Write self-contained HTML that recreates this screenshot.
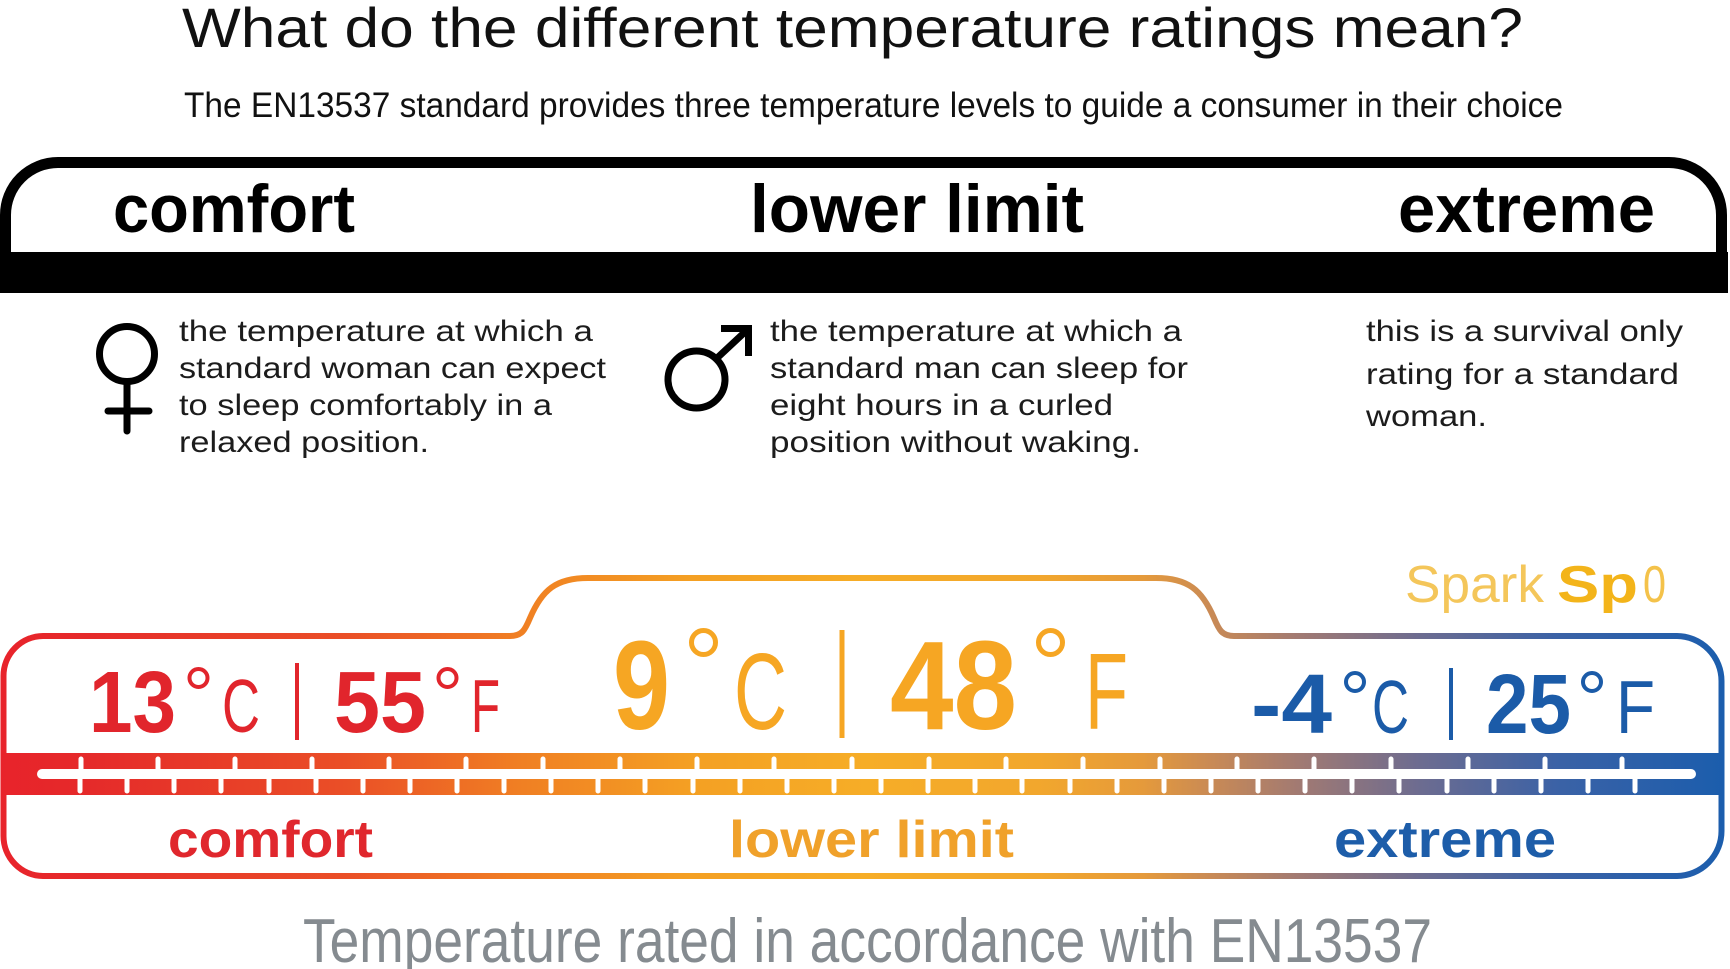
<!DOCTYPE html>
<html>
<head>
<meta charset="utf-8">
<style>
  html,body{margin:0;padding:0;background:#fff;}
  body{width:1730px;height:969px;overflow:hidden;}
  svg{display:block;}
  text{font-family:"Liberation Sans", "DejaVu Sans", sans-serif;}
</style>
</head>
<body>
<svg width="1730" height="969" viewBox="0 0 1730 969" xmlns="http://www.w3.org/2000/svg">
  <defs>
    <linearGradient id="g" gradientUnits="userSpaceOnUse" x1="0" y1="0" x2="1730" y2="0">
      <stop offset="0" stop-color="#e8232b"/>
      <stop offset="0.05" stop-color="#e52a2a"/>
      <stop offset="0.20" stop-color="#ea4f27"/>
      <stop offset="0.30" stop-color="#f07f23"/>
      <stop offset="0.40" stop-color="#f4a023"/>
      <stop offset="0.50" stop-color="#f6ad27"/>
      <stop offset="0.60" stop-color="#f2a72d"/>
      <stop offset="0.66" stop-color="#e59a3b"/>
      <stop offset="0.70" stop-color="#c98a55"/>
      <stop offset="0.75" stop-color="#a27a72"/>
      <stop offset="0.82" stop-color="#6d6c90"/>
      <stop offset="0.90" stop-color="#3b62a6"/>
      <stop offset="1" stop-color="#1a5dad"/>
    </linearGradient>
  </defs>

  <rect x="0" y="0" width="1730" height="969" fill="#ffffff"/>

  <!-- Title -->
  <text x="182" y="47" font-size="56" fill="#111" textLength="1341" lengthAdjust="spacingAndGlyphs">What do the different temperature ratings mean?</text>
  <text x="184" y="117" font-size="35" fill="#111" textLength="1379" lengthAdjust="spacingAndGlyphs">The EN13537 standard provides three temperature levels to guide a consumer in their choice</text>

  <!-- Top black frame -->
  <path d="M5.5,256 V215 A52.5 52.5 0 0 1 58,162.5 H1669 A52.5 52.5 0 0 1 1721.5,215 V256" fill="none" stroke="#000" stroke-width="11"/>
  <rect x="0" y="252" width="1728" height="41" fill="#000"/>

  <text x="113" y="232" font-size="68" font-weight="bold" fill="#000" textLength="242" lengthAdjust="spacingAndGlyphs">comfort</text>
  <text x="750" y="232" font-size="68" font-weight="bold" fill="#000" textLength="334" lengthAdjust="spacingAndGlyphs">lower limit</text>
  <text x="1398" y="232" font-size="68" font-weight="bold" fill="#000" textLength="257" lengthAdjust="spacingAndGlyphs">extreme</text>

  <!-- Female symbol -->
  <g fill="none" stroke="#000" stroke-width="7" stroke-linecap="round">
    <circle cx="127" cy="354" r="27.5"/>
    <line x1="127" y1="382" x2="127" y2="431"/>
    <line x1="108" y1="411" x2="149" y2="411"/>
  </g>
  <!-- Male symbol -->
  <g fill="none" stroke="#000" stroke-width="7">
    <circle cx="696.5" cy="379.5" r="28.5"/>
    <line x1="716" y1="359" x2="746" y2="331"/>
    <polyline points="721,328.5 748.5,328.5 748.5,356" stroke-linejoin="miter" stroke-linecap="butt"/>
  </g>

  <!-- Descriptions -->
  <g font-size="30" fill="#1c1c1c">
    <text x="179" y="341" textLength="414" lengthAdjust="spacingAndGlyphs">the temperature at which a</text>
    <text x="179" y="378" textLength="427" lengthAdjust="spacingAndGlyphs">standard woman can expect</text>
    <text x="179" y="415" textLength="373" lengthAdjust="spacingAndGlyphs">to sleep comfortably in a</text>
    <text x="179" y="452" textLength="250" lengthAdjust="spacingAndGlyphs">relaxed position.</text>

    <text x="770" y="341" textLength="412" lengthAdjust="spacingAndGlyphs">the temperature at which a</text>
    <text x="770" y="378" textLength="418" lengthAdjust="spacingAndGlyphs">standard man can sleep for</text>
    <text x="770" y="415" textLength="343" lengthAdjust="spacingAndGlyphs">eight hours in a curled</text>
    <text x="770" y="452" textLength="371" lengthAdjust="spacingAndGlyphs">position without waking.</text>

    <text x="1366" y="341" textLength="317" lengthAdjust="spacingAndGlyphs">this is a survival only</text>
    <text x="1366" y="384" textLength="313" lengthAdjust="spacingAndGlyphs">rating for a standard</text>
    <text x="1366" y="426" textLength="121" lengthAdjust="spacingAndGlyphs">woman.</text>
  </g>

  <!-- Spark Sp0 -->
  <text x="1405" y="602" font-size="52" fill="#f4c65a" textLength="139" lengthAdjust="spacingAndGlyphs">Spark</text>
  <text x="1557" y="602" font-size="52" font-weight="bold" fill="#f3b41a" textLength="81" lengthAdjust="spacingAndGlyphs">Sp</text>
  <text x="1643" y="602" font-size="52" fill="#f4c24a" textLength="23" lengthAdjust="spacingAndGlyphs">0</text>

  <!-- Bottom outline -->
  <path d="M43,636 H510 C522,636 525,630 530,618 C542,590 556,578 588,578 H1156 C1188,578 1202,590 1214,618 C1219,630 1222,636 1234,636 H1677 A45 45 0 0 1 1721.5,681 V831 A45 45 0 0 1 1677,876 H43 A40 40 0 0 1 3.5,836 V676 A40 40 0 0 1 43,636 Z" fill="none" stroke="url(#g)" stroke-width="6"/>

  <!-- Thermometer band -->
  <rect x="2" y="753" width="1721" height="42" fill="url(#g)"/>
  <rect x="37" y="769" width="1659" height="10" rx="5" fill="#fff"/>
  <path fill="none" stroke="#fff" stroke-width="5" stroke-linecap="round" d="M81 759V772 M158 759V772 M235 759V772 M312 759V772 M389 759V772 M466 759V772 M543 759V772 M620 759V772 M697 759V772 M774 759V772 M852 759V772 M929 759V772 M1006 759V772 M1083 759V772 M1160 759V772 M1237 759V772 M1314 759V772 M1391 759V772 M1468 759V772 M1545 759V772 M1622 759V772"/>
  <path fill="none" stroke="#fff" stroke-width="5" stroke-linecap="round" d="M80 776V791 M127 776V791 M174 776V791 M221 776V791 M269 776V791 M316 776V791 M363 776V791 M410 776V791 M457 776V791 M504 776V791 M551 776V791 M598 776V791 M645 776V791 M693 776V791 M740 776V791 M787 776V791 M834 776V791 M881 776V791 M928 776V791 M975 776V791 M1022 776V791 M1070 776V791 M1117 776V791 M1164 776V791 M1211 776V791 M1258 776V791 M1305 776V791 M1352 776V791 M1399 776V791 M1447 776V791 M1494 776V791 M1541 776V791 M1588 776V791 M1635 776V791"/>

  <!-- Red temps -->
  <g fill="#e1252c">
    <text x="89" y="732" font-size="87" font-weight="bold" textLength="87" lengthAdjust="spacingAndGlyphs">13</text>
    <text x="222" y="732" font-size="75" textLength="38" lengthAdjust="spacingAndGlyphs">C</text>
    <rect x="295" y="663" width="4" height="77"/>
    <text x="334" y="732" font-size="87" font-weight="bold" textLength="92" lengthAdjust="spacingAndGlyphs">55</text>
    <text x="471" y="732" font-size="75" textLength="29" lengthAdjust="spacingAndGlyphs">F</text>
  </g>
  <g fill="none" stroke="#e1252c" stroke-width="4">
    <circle cx="198.5" cy="678" r="9"/>
    <circle cx="447.5" cy="678" r="9"/>
  </g>

  <!-- Orange temps -->
  <g fill="#f6a623">
    <text x="613" y="729" font-size="126" font-weight="bold" textLength="57" lengthAdjust="spacingAndGlyphs">9</text>
    <text x="734" y="729" font-size="109" textLength="53" lengthAdjust="spacingAndGlyphs">C</text>
    <rect x="839.5" y="630" width="5" height="108"/>
    <text x="890" y="729" font-size="126" font-weight="bold" textLength="127" lengthAdjust="spacingAndGlyphs">48</text>
    <text x="1085" y="729" font-size="109" textLength="43" lengthAdjust="spacingAndGlyphs">F</text>
  </g>
  <g fill="none" stroke="#f6a623" stroke-width="5">
    <circle cx="703.5" cy="642.5" r="12"/>
    <circle cx="1050.5" cy="642.5" r="12"/>
  </g>

  <!-- Blue temps -->
  <g fill="#1b5ba8">
    <text x="1251" y="733" font-size="84" font-weight="bold" textLength="81" lengthAdjust="spacingAndGlyphs">-4</text>
    <text x="1372" y="733" font-size="75" textLength="37" lengthAdjust="spacingAndGlyphs">C</text>
    <rect x="1449" y="668" width="4" height="72"/>
    <text x="1486" y="733" font-size="84" font-weight="bold" textLength="85" lengthAdjust="spacingAndGlyphs">25</text>
    <text x="1616" y="733" font-size="75" textLength="39" lengthAdjust="spacingAndGlyphs">F</text>
  </g>
  <g fill="none" stroke="#1b5ba8" stroke-width="4">
    <circle cx="1355" cy="682" r="9"/>
    <circle cx="1592" cy="682" r="9"/>
  </g>

  <!-- Labels under band -->
  <text x="168" y="857" font-size="52" font-weight="bold" fill="#e0272d" textLength="205" lengthAdjust="spacingAndGlyphs">comfort</text>
  <text x="729" y="857" font-size="52" font-weight="bold" fill="#f0a12a" textLength="285" lengthAdjust="spacingAndGlyphs">lower limit</text>
  <text x="1334" y="857" font-size="52" font-weight="bold" fill="#1d5da9" textLength="222" lengthAdjust="spacingAndGlyphs">extreme</text>

  <!-- Footer -->
  <text x="303" y="962" font-size="62" fill="#858b90" textLength="1129" lengthAdjust="spacingAndGlyphs">Temperature rated in accordance with EN13537</text>
</svg>
</body>
</html>
